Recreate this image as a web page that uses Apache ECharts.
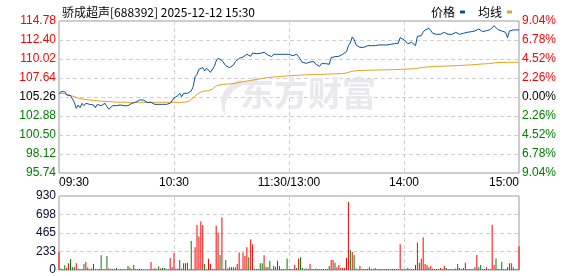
<!DOCTYPE html>
<html><head><meta charset="utf-8">
<script src="https://cdn.jsdelivr.net/npm/echarts@6/dist/echarts.min.js"></script>
<style>html,body{margin:0;padding:0;background:#fff}#c{width:578px;height:276px}</style>
</head><body><div id="c"></div>
<script>
const titleText = '骄成超声[688392] 2025-12-12 15:30';
const prevClose = 105.26;
const timeLabels = ['09:30', '10:30', '11:30/13:00', '14:00', '15:00'];
const priceLabels = ['95.74', '98.12', '100.50', '102.88', '105.26', '107.64', '110.02', '112.40', '114.78'];
const pctLabels = ['9.04%', '6.78%', '4.52%', '2.26%', '0.00%', '2.26%', '4.52%', '6.78%', '9.04%'];
const volLabels = ['0', '233', '465', '698', '930'];

const price = [
105.64,105.93,105.72,105.93,105.51,105.43,105.43,105.01,104.59,103.84,
104.26,103.92,104.47,104.17,104.47,104.59,104.34,104.59,104.26,103.92,
104.34,104.47,104.17,104.13,104.47,104.05,103.72,103.92,104.17,104.26,
104.17,104.00,104.26,104.05,104.17,104.26,104.17,104.26,104.47,104.47,
104.59,104.76,104.88,104.67,104.88,104.76,104.59,104.67,104.59,104.59,
104.34,104.34,104.34,104.34,104.34,104.34,104.34,104.34,104.47,104.59,
105.14,105.17,105.43,105.72,105.30,105.72,105.60,105.72,105.80,106.01,
106.55,107.80,108.10,108.73,108.98,108.94,108.52,108.86,108.64,108.35,
108.35,109.06,109.77,110.10,109.98,109.86,109.61,109.18,108.98,108.94,
109.10,109.27,109.68,109.93,110.10,110.10,110.27,110.52,110.61,110.40,
110.36,110.77,110.77,110.69,110.61,110.73,110.61,110.86,110.94,110.52,
110.73,110.31,110.61,110.73,110.61,110.82,110.61,110.61,110.61,110.73,
110.61,
110.49,110.44,110.31,110.61,110.31,110.31,109.61,109.61,109.48,109.69,
109.65,109.48,109.69,109.36,109.14,109.10,109.44,109.69,109.44,109.19,
109.36,110.19,110.44,110.31,110.44,110.36,110.56,110.61,110.69,110.94,
111.69,112.03,112.78,112.44,111.78,111.53,111.48,111.48,111.48,111.48,
111.69,111.73,111.69,111.69,111.69,111.73,111.78,111.78,111.78,111.78,
111.78,111.82,111.86,111.86,111.94,111.94,111.99,112.69,112.61,112.44,
112.28,111.94,111.94,112.11,111.86,111.69,112.86,112.90,112.94,113.40,
113.66,113.78,113.87,113.66,113.24,113.07,113.11,112.99,113.11,113.24,
113.36,113.24,113.11,112.99,113.11,112.99,113.36,113.44,113.11,113.24,
113.24,113.11,113.36,113.44,113.44,113.40,113.53,113.53,113.78,113.61,
113.44,113.61,113.57,113.66,113.70,113.95,114.20,113.95,113.70,113.57,
113.53,113.44,113.36,112.69,113.53,113.66,113.66,113.66,113.66,113.66
];

const avgPrice = [
105.70,105.75,105.72,105.68,105.60,105.52,105.45,105.38,105.30,105.20,
105.12,105.06,105.02,104.98,104.95,104.92,104.88,104.86,104.83,104.80,
104.78,104.76,104.74,104.72,104.70,104.68,104.67,104.66,104.65,104.64,
104.62,104.61,104.61,104.60,104.60,104.60,104.59,104.59,104.59,104.59,
104.59,104.59,104.59,104.59,104.59,104.59,104.59,104.59,104.59,104.59,
104.59,104.59,104.59,104.59,104.59,104.59,104.59,104.59,104.59,104.59,
104.59,104.59,104.59,104.59,104.59,104.60,104.62,104.68,104.78,104.95,
105.15,105.40,105.60,105.78,105.88,105.95,106.00,106.02,106.05,106.10,
106.25,106.45,106.65,106.74,106.78,106.82,106.85,106.87,106.89,106.90,
106.92,106.95,106.98,107.02,107.08,107.14,107.18,107.22,107.26,107.30,
107.34,107.38,107.42,107.46,107.50,107.54,107.58,107.62,107.66,107.69,
107.72,107.74,107.76,107.78,107.80,107.82,107.84,107.86,107.88,107.90,
107.92,
107.94,107.95,107.96,107.97,107.98,108.00,108.01,108.02,108.03,108.04,
108.05,108.06,108.07,108.07,108.08,108.09,108.10,108.10,108.11,108.12,
108.13,108.14,108.15,108.16,108.17,108.18,108.19,108.20,108.22,108.26,
108.35,108.42,108.48,108.52,108.55,108.56,108.57,108.58,108.59,108.60,
108.61,108.62,108.62,108.63,108.64,108.64,108.65,108.65,108.66,108.66,
108.67,108.67,108.68,108.68,108.69,108.69,108.70,108.72,108.73,108.74,
108.75,108.76,108.77,108.78,108.80,108.82,108.86,108.90,108.94,108.98,
109.00,109.02,109.04,109.06,109.07,109.08,109.09,109.10,109.11,109.12,
109.13,109.14,109.15,109.16,109.17,109.18,109.19,109.20,109.21,109.22,
109.24,109.25,109.26,109.27,109.28,109.30,109.32,109.34,109.36,109.38,
109.40,109.41,109.42,109.44,109.46,109.50,109.53,109.55,109.57,109.58,
109.59,109.59,109.60,109.60,109.60,109.61,109.61,109.61,109.62,109.62
];

const volume = [
230,20,12,60,28,84,138,35,35,84,
15,12,12,75,100,32,12,18,75,12,
12,12,185,12,12,175,20,15,12,12,
25,10,12,10,12,10,50,30,12,62,
12,12,15,12,10,10,10,10,100,12,
22,12,45,20,25,25,12,12,150,35,
210,15,18,125,20,84,84,92,12,365,
12,285,565,420,610,565,75,12,140,75,
12,12,555,470,190,660,12,125,20,35,
35,35,35,75,220,12,220,175,285,160,
385,325,12,12,12,84,84,185,38,35,
115,12,50,42,115,50,12,12,12,145,
12,
12,12,63,25,145,160,25,12,20,12,
75,12,12,20,12,12,12,12,12,12,
50,125,125,92,35,63,25,25,25,150,
855,250,225,185,20,12,50,12,12,12,
12,35,12,12,25,12,12,12,12,12,
12,12,12,12,12,12,12,325,12,12,
12,25,12,12,12,63,345,92,140,410,
75,63,35,50,20,12,12,12,25,12,
50,25,12,12,12,12,20,75,25,12,
25,92,12,12,12,12,35,190,35,63,
12,12,35,12,12,570,63,145,12,12,
105,12,12,35,84,84,35,12,12,300
];

// 1 = up (red), -1 = down (green)
const volDir = [
1,-1,1,-1,1,1,-1,-1,-1,1,
1,1,-1,-1,1,1,-1,-1,-1,1,
1,-1,-1,-1,1,-1,1,1,1,1,
-1,1,-1,1,-1,1,-1,1,1,-1,
1,1,-1,1,-1,1,1,1,1,1,
1,-1,-1,1,-1,-1,1,-1,1,1,
1,1,1,-1,1,1,1,-1,1,-1,
1,1,1,1,1,1,-1,1,1,1,
1,-1,1,1,-1,1,-1,-1,1,-1,
1,1,1,1,1,-1,1,1,1,-1,
1,1,-1,-1,1,-1,-1,1,-1,1,
-1,1,1,-1,1,-1,1,1,1,-1,
-1,
-1,1,1,-1,1,-1,-1,1,-1,1,
1,-1,1,-1,1,1,1,1,1,1,
-1,1,1,-1,1,1,1,1,1,1,
1,-1,1,-1,-1,1,1,1,1,1,
1,-1,-1,-1,1,1,1,-1,1,1,
1,1,1,-1,1,1,1,1,-1,-1,
-1,-1,1,-1,-1,-1,1,-1,1,1,
1,1,-1,1,1,1,-1,1,1,-1,
1,-1,-1,1,-1,1,1,-1,1,-1,
1,1,1,1,1,1,1,1,-1,-1,
1,1,1,1,1,1,1,-1,-1,1,
-1,1,-1,-1,1,1,-1,1,1,1
];

// minute categories 09:30..11:30, 13:01..15:00
const categories = [];
for (let i = 0; i <= 240; i++) {
  let t = i <= 120 ? 9 * 60 + 30 + i : 13 * 60 + (i - 120);
  const h = Math.floor(t / 60), m = t % 60;
  categories.push((h < 10 ? '0' : '') + h + ':' + (m < 10 ? '0' : '') + m);
}

const FONT = 'Liberation Sans, Arial, sans-serif';
const CJK = 'Noto Sans CJK SC, sans-serif';
const RED = '#ff0000', GREEN = '#008000', DARK = '#000000';
const toCents = v => Math.round((v - prevClose) * 100);
const idxOf = v => Math.round((v + 952) / 238);

const chart = echarts.init(document.getElementById('c'), null, {renderer: 'canvas'});
chart.setOption({
  animation: false,
  backgroundColor: '#fff',
  title: {
    text: titleText, left: 57, top: 1,
    textStyle: {fontSize: 12, fontWeight: 'normal', color: '#000', fontFamily: CJK}
  },
  legend: {
    data: ['价格', '均线'], right: 61, top: 1, align: 'right', itemGap: 13,
    itemWidth: 5, itemHeight: 3, icon: 'rect', selectedMode: false,
    textStyle: {fontSize: 12, color: '#000', fontFamily: CJK}
  },
  graphic: [
    {type: 'polygon', z: 1, silent: true,
     shape: {points: [[241, 79], [232, 83], [225, 90], [221, 99], [222, 108], [225, 116], [225, 106], [228, 97], [234, 90], [243, 85]]},
     style: {fill: '#e8e8ee'}},
    {type: 'text', z: 1, left: 240, top: 76, silent: true,
     style: {text: '东方财富', fontSize: 34, fontWeight: 'bold', fill: '#e8e8ee', fontFamily: CJK}}
  ],
  grid: [
    {left: 59, top: 21, width: 460, height: 152, show: true, borderColor: '#999', borderWidth: 1},
    {left: 59, top: 196, width: 460, height: 74, show: true, borderColor: '#999', borderWidth: 1}
  ],
  xAxis: [
    {type: 'category', gridIndex: 0, data: categories, boundaryGap: false,
     axisLine: {show: false}, axisTick: {show: false},
     axisLabel: {interval: i => i % 60 === 0, formatter: (v, i) => timeLabels[i / 60],
       alignMinLabel: 'left', alignMaxLabel: 'right', margin: 4,
       fontSize: 12, color: '#000', fontFamily: FONT, showMinLabel: true, showMaxLabel: true},
     splitLine: {show: true, interval: i => i % 60 === 0 && i > 0 && i < 240,
       lineStyle: {color: '#d0d0d0', type: [4, 3], width: 1}}},
    {type: 'category', gridIndex: 1, data: categories, boundaryGap: false,
     axisLine: {show: false}, axisTick: {show: false}, axisLabel: {show: false},
     splitLine: {show: true, interval: i => i % 60 === 0 && i > 0 && i < 240,
       lineStyle: {color: '#d0d0d0', type: [4, 3], width: 1}}}
  ],
  yAxis: [
    {type: 'value', gridIndex: 0, min: -952, max: 952, interval: 238,
     axisLine: {show: false}, axisTick: {show: false},
     splitLine: {lineStyle: {color: '#d0d0d0', type: [4, 3], width: 1}},
     axisLabel: {margin: 3, fontSize: 12, fontFamily: FONT,
       formatter: v => priceLabels[idxOf(v)],
       color: v => v > 0.5 ? RED : (v < -0.5 ? GREEN : DARK)}},
    {type: 'value', gridIndex: 0, position: 'right', min: -952, max: 952, interval: 238,
     axisLine: {show: false}, axisTick: {show: false}, splitLine: {show: false},
     axisLabel: {margin: 3, fontSize: 12, fontFamily: FONT,
       formatter: v => pctLabels[8 - idxOf(v)],
       color: v => v > 0.5 ? RED : (v < -0.5 ? GREEN : DARK)}},
    {type: 'value', gridIndex: 1, min: 0, max: 930, interval: 232.5,
     axisLine: {show: false}, axisTick: {show: false},
     splitLine: {lineStyle: {color: '#d0d0d0', type: [4, 3], width: 1}},
     axisLabel: {margin: 3, fontSize: 12, fontFamily: FONT, color: '#0a0a30',
       formatter: v => volLabels[Math.round(v / 232.5)]}}
  ],
  series: [
    {name: '价格', type: 'line', xAxisIndex: 0, yAxisIndex: 0, z: 4,
     data: price.map(toCents), showSymbol: false, symbol: 'none',
     itemStyle: {color: '#0b4ea2'}, lineStyle: {width: 1, color: '#0b4ea2'}},
    {name: '均线', type: 'line', xAxisIndex: 0, yAxisIndex: 0, z: 3,
     data: avgPrice.map(toCents), showSymbol: false, symbol: 'none',
     itemStyle: {color: '#e3a21a'}, lineStyle: {width: 1, color: '#e3a21a'}},
    {name: 'vol', type: 'bar', xAxisIndex: 1, yAxisIndex: 2, barWidth: 1,
     data: volume.map((v, i) => ({value: v, itemStyle: {color: volDir[i] > 0 ? RED : GREEN}}))}
  ]
});
</script>
</body></html>
